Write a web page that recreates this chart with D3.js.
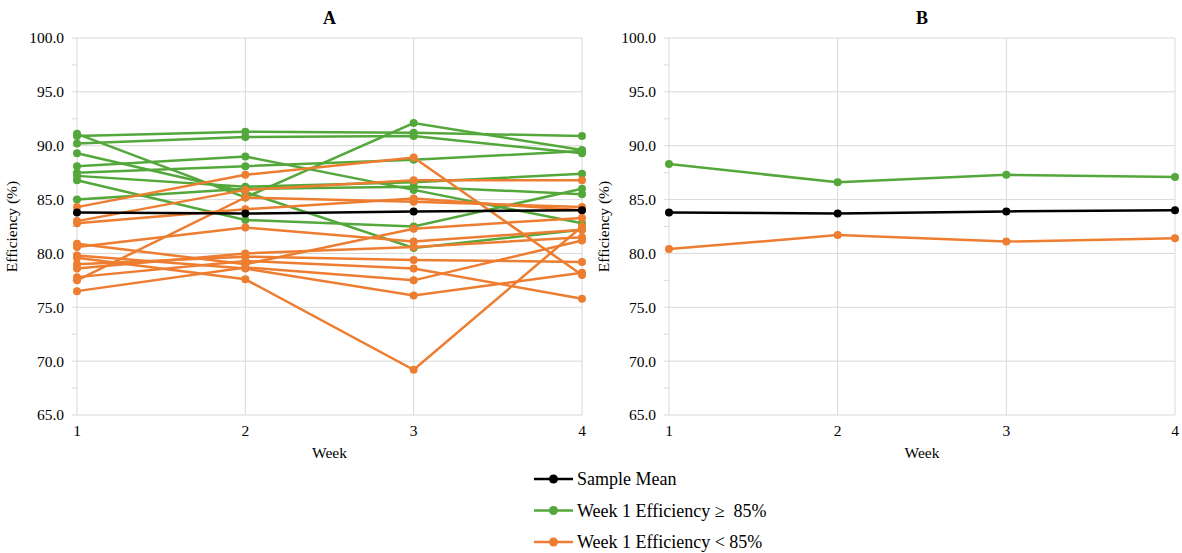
<!DOCTYPE html>
<html>
<head>
<meta charset="utf-8">
<script src="https://cdn.jsdelivr.net/npm/d3@7"></script>
<style>
  body { margin: 0; background: #fff; }
</style>
</head>
<body>
<div id="chart"></div>
<script>
// Weeks on the x axis
const weeks = [1, 2, 3, 4];
const yTicks = [65, 70, 75, 80, 85, 90, 95, 100];

// Panel A: individual participants, week 1 efficiency >= 85%
const greenA = [
  [91.1, 85.2, 92.1, 89.6],
  [90.9, 91.3, 91.2, 90.9],
  [90.2, 90.8, 90.9, 89.3],
  [89.3, 85.7, 80.5, 82.2],
  [88.1, 89.0, 85.9, 82.8],
  [87.5, 88.1, 88.7, 89.5],
  [87.2, 86.2, 86.6, 87.4],
  [86.8, 83.1, 82.5, 86.0],
  [85.0, 86.0, 86.2, 85.5]
];

// Panel A: individual participants, week 1 efficiency < 85%
const orangeA = [
  [84.3, 87.3, 88.9, 78.0],
  [77.5, 85.2, 84.8, 84.3],
  [83.0, 85.9, 86.8, 86.8],
  [82.8, 84.1, 85.1, 84.0],
  [80.9, 79.0, 82.3, 83.3],
  [80.6, 82.4, 81.1, 82.2],
  [79.8, 78.6, 76.1, 78.2],
  [79.6, 77.6, 69.2, 82.5],
  [79.0, 79.7, 79.4, 79.2],
  [78.6, 80.0, 80.6, 81.5],
  [77.8, 79.3, 78.6, 75.8],
  [76.5, 78.7, 77.5, 81.2]
];

const meanA = [83.8, 83.7, 83.9, 84.0];

// Panel B: group means
const greenB = [88.3, 86.6, 87.3, 87.1];
const meanB = [83.8, 83.7, 83.9, 84.0];
const orangeB = [80.4, 81.7, 81.1, 81.4];

const colors = { mean: "#000000", green: "#54a83b", orange: "#ed7d31" };

const W = 1182, H = 553;
const svg = d3.select("#chart").append("svg")
  .attr("width", W)
  .attr("height", H)
  .attr("font-family", "'Liberation Serif', 'Times New Roman', Times, serif");

const y = d3.scaleLinear().domain([65, 100]).range([415, 38]);

function drawPanel(x0, x1, title, series) {
  const x = d3.scaleLinear().domain([1, 4]).range([x0, x1]);
  const g = svg.append("g");

  // Horizontal gridlines
  g.append("g").selectAll("line")
    .data(yTicks)
    .enter().append("line")
    .attr("x1", x0).attr("x2", x1)
    .attr("y1", d => y(d)).attr("y2", d => y(d))
    .attr("stroke", "#d9d9d9").attr("stroke-width", 1);

  // Vertical gridlines
  g.append("g").selectAll("line")
    .data(weeks)
    .enter().append("line")
    .attr("x1", d => x(d)).attr("x2", d => x(d))
    .attr("y1", y(100)).attr("y2", y(65))
    .attr("stroke", "#d9d9d9").attr("stroke-width", 1);

  // Y axis ticks (major and minor)
  const minor = d3.range(65, 100.1, 2.5);
  g.append("g").selectAll("line")
    .data(minor)
    .enter().append("line")
    .attr("x1", x0 - 5).attr("x2", x0)
    .attr("y1", d => y(d)).attr("y2", d => y(d))
    .attr("stroke", "#d9d9d9").attr("stroke-width", 1);

  g.append("g").selectAll("text")
    .data(yTicks)
    .enter().append("text")
    .attr("x", x0 - 13)
    .attr("y", d => y(d))
    .attr("dy", "0.35em")
    .attr("text-anchor", "end")
    .style("font-size", "15.5px")
    .text(d => d.toFixed(1));

  // X axis labels
  g.append("g").selectAll("text")
    .data(weeks)
    .enter().append("text")
    .attr("x", d => x(d))
    .attr("y", 436)
    .attr("text-anchor", "middle")
    .style("font-size", "15.5px")
    .text(d => d);

  g.append("text")
    .attr("x", (x0 + x1) / 2)
    .attr("y", 458)
    .attr("text-anchor", "middle")
    .style("font-size", "15.5px")
    .text("Week");

  g.append("text")
    .attr("transform", `translate(${x0 - 60},${y(82.5)}) rotate(-90)`)
    .attr("text-anchor", "middle")
    .style("font-size", "15.5px")
    .text("Efficiency (%)");

  g.append("text")
    .attr("x", (x0 + x1) / 2)
    .attr("y", 24)
    .attr("text-anchor", "middle")
    .style("font-size", "18px")
    .style("font-weight", "bold")
    .text(title);

  const line = d3.line()
    .x((d, i) => x(weeks[i]))
    .y(d => y(d));

  series.forEach(s => {
    const sg = g.append("g");
    sg.selectAll("path")
      .data(s.data)
      .enter().append("path")
      .attr("d", d => line(d))
      .attr("fill", "none")
      .attr("stroke", s.color)
      .attr("stroke-width", 2.5);
    s.data.forEach(row => {
      sg.append("g").selectAll("circle")
        .data(row)
        .enter().append("circle")
        .attr("cx", (d, i) => x(weeks[i]))
        .attr("cy", d => y(d))
        .attr("r", 4)
        .attr("fill", s.color);
    });
  });
}

drawPanel(77, 582, "A", [
  { data: greenA, color: colors.green },
  { data: orangeA, color: colors.orange },
  { data: [meanA], color: colors.mean }
]);

drawPanel(669, 1175, "B", [
  { data: [greenB], color: colors.green },
  { data: [orangeB], color: colors.orange },
  { data: [meanB], color: colors.mean }
]);

// Legend
const legendItems = [
  { label: "Sample Mean", color: colors.mean },
  { label: "Week 1 Efficiency \u2265  85%", color: colors.green },
  { label: "Week 1 Efficiency < 85%", color: colors.orange }
];

const legend = svg.append("g").attr("transform", "translate(534, 479)");
const item = legend.selectAll("g")
  .data(legendItems)
  .enter().append("g")
  .attr("transform", (d, i) => `translate(0, ${i * 31.5})`);

item.append("line")
  .attr("x1", 0).attr("x2", 39)
  .attr("y1", 0).attr("y2", 0)
  .attr("stroke", d => d.color)
  .attr("stroke-width", 2.5);

item.append("circle")
  .attr("cx", 19.5).attr("cy", 0).attr("r", 4.5)
  .attr("fill", d => d.color);

item.append("text")
  .attr("x", 43)
  .attr("y", 0)
  .attr("dy", "0.35em")
  .style("font-size", "18px")
  .style("white-space", "pre")
  .text(d => d.label);
</script>
</body>
</html>
